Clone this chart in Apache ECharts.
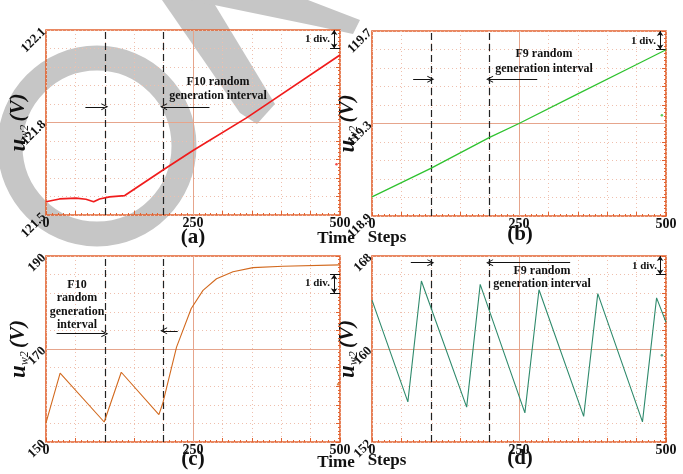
<!DOCTYPE html>
<html>
<head>
<meta charset="utf-8">
<style>
  html, body { margin: 0; padding: 0; background: #fff; }
  #main { width: 683px; height: 474px; }
</style>
<script src="https://cdn.jsdelivr.net/npm/echarts@6/dist/echarts.min.js"></script>
</head>
<body>
<div id="main"></div>
<script>
// values (x = time steps, y = u_w2 in V)
var xTicks = [0, 250, 500];

// (a) F10 random generation, red trace
var stepsA = [0, 23, 51, 68, 81, 91, 108, 134, 199, 250, 341, 500];
var uA = [121.543, 121.552, 121.555, 121.551, 121.543, 121.552, 121.559, 121.563, 121.646, 121.709, 121.815, 122.019];
var yTicksA = [121.5, 121.8, 122.1];
var strayA = [[494, 121.665]];

// (b) F9 random generation, green trace
var stepsB = [0, 100, 200, 250, 350, 450, 500];
var uB = [118.983, 119.106, 119.24, 119.30, 119.428, 119.555, 119.619];
var yTicksB = [118.9, 119.3, 119.7];
var strayB = [[493, 119.336]];

// (c) F10 random generation, orange trace
var stepsC = [0, 24, 99, 128, 192, 199, 222, 247, 267, 290, 318, 352, 403, 500];
var uC = [154.1, 164.8, 154.3, 165.0, 155.9, 158.5, 170.4, 178.7, 182.6, 185.1, 186.6, 187.5, 187.8, 188.1];
var yTicksC = [150, 170, 190];
var strayC = [[497, 162.4]];

// (d) F9 random generation, teal trace
var stepsD = [0, 61, 84, 161, 184, 260, 284, 360, 384, 460, 484, 500];
var uD = [164.2, 155.45, 165.85, 155.0, 165.56, 154.5, 165.1, 154.2, 164.76, 153.73, 164.4, 162.3];
var yTicksD = [152, 160, 168];
var strayD = [[493, 159.46]];

var FONT = '"Liberation Serif", "DejaVu Serif", serif';
var BORDER = '#e2622f';
var GRIDC = '#efbfad';
var WM = '#c6c6c6';
var ARROW = 'path://M0,10 L5,0 L10,10 L8.6,10 L5,3.2 L1.4,10 Z';

function pairs(xs, ys) {
  return xs.map(function (x, i) { return [x, ys[i]]; });
}

// layout + annotation positions for each panel (data coords for arrows)
var panels = [
  {box: [46, 30, 294, 185], ticks: yTicksA, steps: stepsA, vals: uA, stray: strayA, color: '#f01c1c', width: 1.7,
   gap: 15, arrows: [[67, 100, 121.851], [278, 200, 121.851]], div: [122.1, 122.04], divTop: false},
  {box: [372, 31, 294, 185], ticks: yTicksB, steps: stepsB, vals: uB, stray: strayB, color: '#2fc22f', width: 1.3,
   gap: 12, arrows: [[70, 100, 119.491], [281, 200, 119.491]], div: [119.7, 119.62], divTop: false},
  {box: [46, 256, 294, 186], ticks: yTicksC, steps: stepsC, vals: uC, stray: strayC, color: '#d2691e', width: 1.1,
   gap: 15, arrows: [[18, 100, 173.3], [224, 200, 173.9]], div: [186, 182], divTop: true},
  {box: [372, 256, 294, 186], ticks: yTicksD, steps: stepsD, vals: uD, stray: strayD, color: '#2f8a6c', width: 1.1,
   gap: 12, arrows: [[66, 100, 167.43], [337, 200, 167.43]], div: [168, 166.4], divTop: false}
];

var grids = [], xAxes = [], yAxes = [], gridAxes = [], series = [];

panels.forEach(function (p, i) {
  var lo = p.ticks[0], mid = p.ticks[1], hi = p.ticks[2];
  grids.push({left: p.box[0], top: p.box[1], width: p.box[2], height: p.box[3],
    show: true, borderColor: BORDER, borderWidth: 1.6, backgroundColor: 'transparent'});

  xAxes.push({gridIndex: i, type: 'value', min: 0, max: 500, interval: 50,
    axisLine: {show: false},
    axisTick: {show: true, inside: true, length: 4, lineStyle: {color: BORDER}},
    minorTick: {show: true, splitNumber: 5, length: 2, lineStyle: {color: BORDER}},
    splitLine: {show: true, lineStyle: {color: GRIDC, type: [1, 3], width: 1}},
    axisLabel: {customValues: xTicks, margin: 1, fontFamily: FONT, fontWeight: 'bold', fontSize: 14, color: '#111'}});

  yAxes.push({gridIndex: i, type: 'value', min: lo, max: hi,
    axisLine: {show: false}, axisTick: {show: false}, splitLine: {show: false},
    axisLabel: {customValues: p.ticks, rotate: 45, margin: 2, fontFamily: FONT, fontWeight: 'bold', fontSize: 13, color: '#111'},
    name: '{u|u}{s|w2} {v|(V)}', nameLocation: 'middle', nameRotate: 90, nameGap: p.gap, nameMoveOverlap: false,
    nameTextStyle: {rich: {
      u: {fontFamily: FONT, fontStyle: 'italic', fontWeight: 'bold', fontSize: 23, color: '#111', lineHeight: 24},
      s: {fontFamily: FONT, fontStyle: 'italic', fontSize: 12, color: '#111', verticalAlign: 'bottom', lineHeight: 24, padding: [8, 0, 0, 0]},
      v: {fontFamily: FONT, fontStyle: 'italic', fontWeight: 'bold', fontSize: 21, color: '#111', lineHeight: 24}
    }}});

  // 10 x 10 division graticule
  gridAxes.push({gridIndex: i, type: 'value', min: 0, max: 10, interval: 1,
    axisLine: {show: false}, axisLabel: {show: false},
    axisTick: {show: true, inside: true, length: 4, lineStyle: {color: BORDER}},
    minorTick: {show: true, splitNumber: 5, length: 2, lineStyle: {color: BORDER}},
    splitLine: {show: true, lineStyle: {color: GRIDC, type: [1, 3], width: 1}}});

  var dash = {color: '#222', type: [7, 4], width: 1.2};
  var black = {color: '#111', type: 'solid', width: 1};
  var centre = {color: '#e6a58c', type: 'solid', width: 1};
  var marks = [
    {xAxis: 250, lineStyle: centre},
    {yAxis: mid, lineStyle: centre},
    {xAxis: 100, lineStyle: dash},
    {xAxis: 200, lineStyle: dash}
  ];
  p.arrows.forEach(function (a) {
    marks.push([{coord: [a[0], a[2]], symbol: 'none', lineStyle: black}, {coord: [a[1], a[2]], symbol: ARROW}]);
  });
  // "1 div." marker
  marks.push([{coord: [490, p.div[0]], symbol: 'arrow', symbolSize: 5, lineStyle: black}, {coord: [490, p.div[1]], symbol: 'arrow', symbolSize: 5}]);
  marks.push([{coord: [483, p.div[1]], lineStyle: black}, {coord: [500, p.div[1]]}]);
  if (p.divTop) {
    marks.push([{coord: [483, p.div[0]], lineStyle: black}, {coord: [500, p.div[0]]}]);
  }

  series.push({type: 'line', xAxisIndex: i, yAxisIndex: i, data: pairs(p.steps, p.vals),
    showSymbol: false, lineStyle: {color: p.color, width: p.width}, z: 3,
    markLine: {silent: true, symbol: ['none', 'none'], symbolSize: 7, label: {show: false}, data: marks, z: 2}});
  series.push({type: 'scatter', xAxisIndex: i, yAxisIndex: i, data: p.stray,
    symbolSize: 2.5, itemStyle: {color: p.color}});
});

function txt(x, y, s, size, align) {
  return {type: 'text', x: x, y: y, z: 20, silent: true,
    style: {text: s, fill: '#111', font: 'bold ' + size + 'px ' + FONT, textAlign: align || 'center', textVerticalAlign: 'middle'}};
}

var graphics = [
  // watermark
  {type: 'ellipse', z: -1, silent: true, shape: {cx: 97, cy: 146, rx: 87, ry: 88}, style: {fill: null, stroke: WM, lineWidth: 25}},
  {type: 'polygon', z: -1, silent: true, shape: {points: [[162, 0], [212, 0], [275, 104], [257, 124], [240, 113]]}, style: {fill: WM}},
  {type: 'polygon', z: -1, silent: true, shape: {points: [[190, 0], [308, 0], [360, 20], [353, 34], [316, 26]]}, style: {fill: WM}},
  // panel (a)
  txt(218, 82, 'F10 random', 12), txt(218, 96, 'generation interval', 12),
  txt(330, 39, '1 div.', 11, 'right'),
  txt(193, 238, '(a)', 21), txt(336, 239, 'Time', 17),
  // panel (b)
  txt(544, 54, 'F9 random', 12), txt(544, 69, 'generation interval', 12),
  txt(656, 41, '1 div.', 11, 'right'),
  txt(520, 235, '(b)', 21), txt(387, 238, 'Steps', 17),
  // panel (c)
  txt(77, 285, 'F10', 12), txt(77, 298, 'random', 12), txt(77, 312, 'generation', 12), txt(77, 325, 'interval', 12),
  txt(330, 283, '1 div.', 11, 'right'),
  txt(193, 460, '(c)', 21), txt(336, 463, 'Time', 17),
  // panel (d)
  txt(542, 271, 'F9 random', 12), txt(542, 284, 'generation interval', 12),
  txt(657, 266, '1 div.', 11, 'right'),
  txt(520, 459, '(d)', 21), txt(387, 461, 'Steps', 17)
];

var myChart = echarts.init(document.getElementById('main'));
myChart.setOption({
  animation: false,
  backgroundColor: '#fff',
  grid: grids,
  xAxis: xAxes,
  yAxis: yAxes.concat(gridAxes),
  series: series,
  graphic: {elements: graphics}
});
</script>
</body>
</html>
